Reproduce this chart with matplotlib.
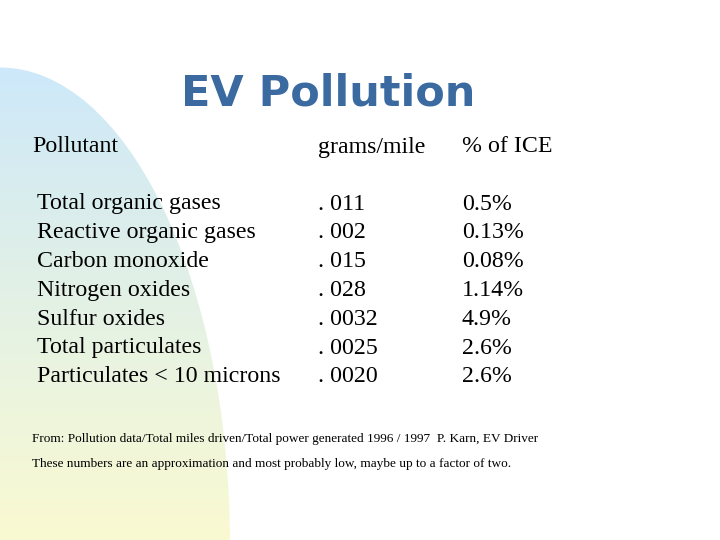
import numpy as np
import matplotlib
matplotlib.use("Agg")
import matplotlib.pyplot as plt
from matplotlib.patches import Ellipse

W, H = 720, 540

pollutants = ["Total organic gases", "Reactive organic gases", "Carbon monoxide",
              "Nitrogen oxides", "Sulfur oxides", "Total particulates",
              "Particulates < 10 microns"]
grams_per_mile = [". 011", ". 002", ". 015", ". 028", ". 0032", ". 0025", ". 0020"]
pct_of_ice = ["0.5%", "0.13%", "0.08%", "1.14%", "4.9%", "2.6%", "2.6%"]
headers = ["Pollutant", "grams/mile", "% of ICE"]
notes = ["From: Pollution data/Total miles driven/Total power generated 1996 / 1997  P. Karn, EV Driver",
         "These numbers are an approximation and most probably low, maybe up to a factor of two."]

fig = plt.figure(figsize=(7.2, 5.4), dpi=100)
ax = fig.add_axes([0, 0, 1, 1])
ax.set_xlim(0, W)
ax.set_ylim(H, 0)
ax.axis("off")

# gradient arc on the left
top = np.array([0.80, 0.91, 0.98])
bot = np.array([0.98, 0.98, 0.82])
t = np.linspace(0, 1, 256)[:, None]
grad = (top * (1 - t) + bot * t)[:, None, :]
im = ax.imshow(grad, extent=[0, 240, 540, 60], aspect="auto", zorder=0)
clip = Ellipse((0, 545), 460, 955, transform=ax.transData, fill=False, lw=0)
ax.add_patch(clip)
im.set_clip_path(clip)

ax.text(328, 93, "EV Pollution", fontsize=31, fontweight="bold", color="#3a6aa0",
        ha="center", va="center", family="DejaVu Sans")

serif = ["Liberation Serif", "DejaVu Serif"]
fs = 17.2
cols = [32, 318, 462]
for x, h in zip(cols, headers):
    ax.text(x, 147, h, fontsize=fs, family=serif, va="center")

for i in range(len(pollutants)):
    y = 204 + i * 28.8
    ax.text(37, y, pollutants[i], fontsize=fs, family=serif, va="center")
    ax.text(318, y, grams_per_mile[i], fontsize=fs, family=serif, va="center")
    ax.text(462, y, pct_of_ice[i], fontsize=fs, family=serif, va="center")

ax.text(32, 439, notes[0], fontsize=9.5, family=serif, va="center")
ax.text(32, 464, notes[1], fontsize=9.5, family=serif, va="center")

fig.savefig("out.png", dpi=100)
